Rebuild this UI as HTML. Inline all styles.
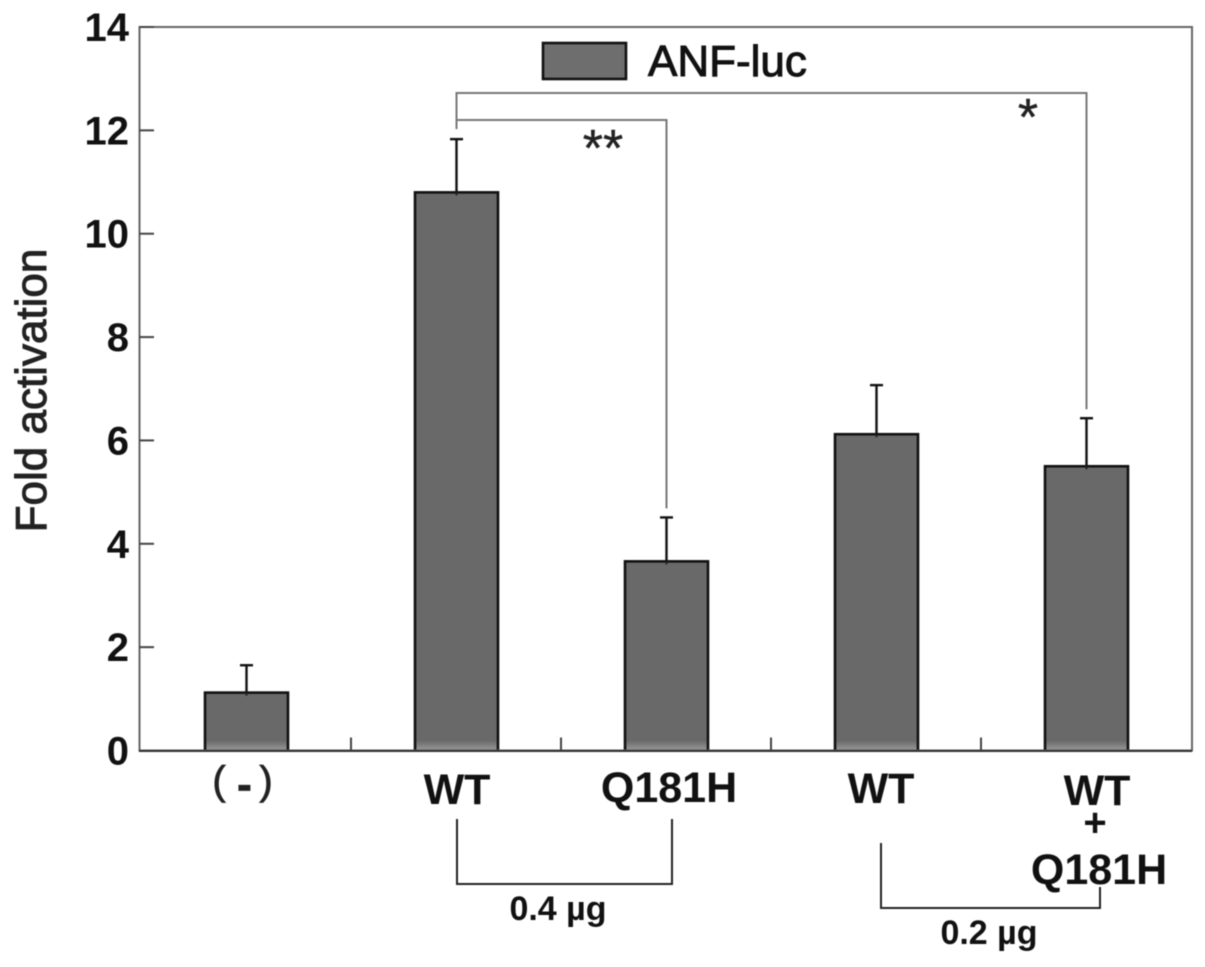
<!DOCTYPE html>
<html>
<head>
<meta charset="utf-8">
<style>
html,body{margin:0;padding:0;background:#fff;}
svg{display:block;font-family:"Liberation Sans",Arial,sans-serif;filter:blur(0.45px);}
</style>
</head>
<body>
<svg id="chart" xmlns="http://www.w3.org/2000/svg" width="1205" height="967" viewBox="0 0 1205 967">
<defs>
<linearGradient id="barFade" x1="0" y1="0" x2="0" y2="1">
<stop offset="0" stop-color="#696969"/>
<stop offset="1" stop-color="#999999"/>
</linearGradient>
</defs>
</svg>
<script>
const categories = ['(-)', 'WT', 'Q181H', 'WT', 'WT + Q181H'];
const foldValues = [1.12, 10.8, 3.66, 6.12, 5.5];
const errorTops = [1.65, 11.83, 4.51, 7.07, 6.43];
const yTicks = [0, 2, 4, 6, 8, 10, 12, 14];

const svg = document.getElementById('chart');
const NS = 'http://www.w3.org/2000/svg';
const yScale = v => 750.5 - v * (723.5 / 14);
const xCenter = i => 246.5 + i * 210;
const xEdge = i => 141 + i * 210;

function add(tag, attrs, text) {
  const el = document.createElementNS(NS, tag);
  for (const k in attrs) el.setAttribute(k, attrs[k]);
  if (text !== undefined) el.textContent = text;
  svg.appendChild(el);
  return el;
}

// bars and error bars
foldValues.forEach((v, i) => {
  const top = yScale(v);
  const stem = add('line', {x1: xCenter(i), x2: xCenter(i), y1: top + 3, y2: yScale(errorTops[i]), stroke: '#111', 'stroke-width': 2.4});
  
  
  const cap = add('line', {x1: xCenter(i) - 6.5, x2: xCenter(i) + 6.5, y1: yScale(errorTops[i]), y2: yScale(errorTops[i]), stroke: '#111', 'stroke-width': 2.4});
  
  
  const bar = add('rect', {x: xCenter(i) - 41.5, y: top, width: 83, height: yScale(0) - top, fill: '#696969', stroke: '#111', 'stroke-width': 2.6, 'fill-opacity': 1});
  
  
  const reStem = add('line', {x1: xCenter(i), x2: xCenter(i), y1: top, y2: top + 3, stroke: '#222', 'stroke-width': 2});
  
  
  const fade = add('rect', {x: xCenter(i) - 40, y: yScale(0) - 10, width: 80, height: 10, fill: 'url(#barFade)'});
  
  
});

// axes frame
const frame = add('path', {d: 'M139.5 ' + yScale(14) + 'H1192V' + yScale(0) + 'H139.5Z', fill: 'none', stroke: '#666', 'stroke-width': 2});


const xAxisDark = add('line', {x1: 139, x2: 1192, y1: yScale(0) + 0.5, y2: yScale(0) + 0.5, stroke: '#333', 'stroke-width': 2});



// y ticks and labels
yTicks.forEach(t => {
  const y = yScale(t);
  if (t > 0) {
    const tick = add('line', {x1: 139.5, x2: 154, y1: y, y2: y, stroke: '#444', 'stroke-width': 2});
    
    
  }
  const label = add('text', {x: 129, y: y + 14, 'text-anchor': 'end', 'font-size': 40, 'font-weight': 'bold', fill: '#111'}, String(t));
  
  
});

// x ticks between categories
categories.slice(1).forEach((c, i) => {
  const x = xEdge(i + 1);
  const tick = add('line', {x1: x, x2: x, y1: yScale(0), y2: yScale(0) - 13, stroke: '#444', 'stroke-width': 2});
  
  
});

// significance brackets, anchored to data
const b1 = add('path', {d: 'M' + xCenter(1) + ' ' + (yScale(errorTops[1]) - 10) + 'V120H' + xCenter(2) + 'V' + (yScale(errorTops[2]) - 9), fill: 'none', stroke: '#777', 'stroke-width': 2});


const b2 = add('path', {d: 'M' + xCenter(1) + ' 120V93H' + xCenter(4) + 'V' + (yScale(errorTops[4]) - 9), fill: 'none', stroke: '#777', 'stroke-width': 2});


</script>

<script>
(function(){
  const s = document.getElementById('chart');
  s.insertAdjacentHTML('beforeend', `
  <text transform="translate(46,390.5) rotate(-90)" text-anchor="middle" font-size="44" fill="#222" stroke="#222" stroke-width="1">Fold activation</text>

  <rect x="543" y="43" width="83" height="36" fill="#6e6e6e" stroke="#111" stroke-width="2.6"/>
  <text x="648" y="76" font-size="44" fill="#111" stroke="#111" stroke-width="1">ANF-luc</text>

  <text x="603" y="166" text-anchor="middle" font-size="52" fill="#222" stroke="#222" stroke-width="0.4">**</text>
  <text x="1028" y="135" text-anchor="middle" font-size="52" fill="#222" stroke="#222" stroke-width="0.4">*</text>

  <text font-size="40" fill="#222" stroke="#222" stroke-width="0.8"><tspan x="219" y="794" text-anchor="middle">(</tspan><tspan x="244.5" y="799" text-anchor="middle" font-size="44" font-weight="bold">-</tspan><tspan x="266" y="794" text-anchor="middle">)</tspan></text>
  <text x="457" y="804" text-anchor="middle" font-size="43" font-weight="bold" fill="#111">WT</text>
  <text x="669" y="802" text-anchor="middle" font-size="43" font-weight="bold" fill="#111">Q181H</text>
  <text x="881" y="803" text-anchor="middle" font-size="43" font-weight="bold" fill="#111">WT</text>
  <text x="1097" y="805" text-anchor="middle" font-size="43" font-weight="bold" fill="#111">WT</text>
  <text x="1095" y="836" text-anchor="middle" font-size="40" font-weight="bold" fill="#111">+</text>
  <text x="1099" y="884" text-anchor="middle" font-size="43" font-weight="bold" fill="#111">Q181H</text>

  <path d="M457 819V884H672V819" fill="none" stroke="#222" stroke-width="2"/>
  <text x="558" y="920" text-anchor="middle" font-size="34" font-weight="bold" fill="#111">0.4 µg</text>
  <path d="M881 843V908H1100V887" fill="none" stroke="#222" stroke-width="2"/>
  <text x="989" y="944" text-anchor="middle" font-size="34" font-weight="bold" fill="#111">0.2 µg</text>
  `);
})();
</script>
</body>
</html>
